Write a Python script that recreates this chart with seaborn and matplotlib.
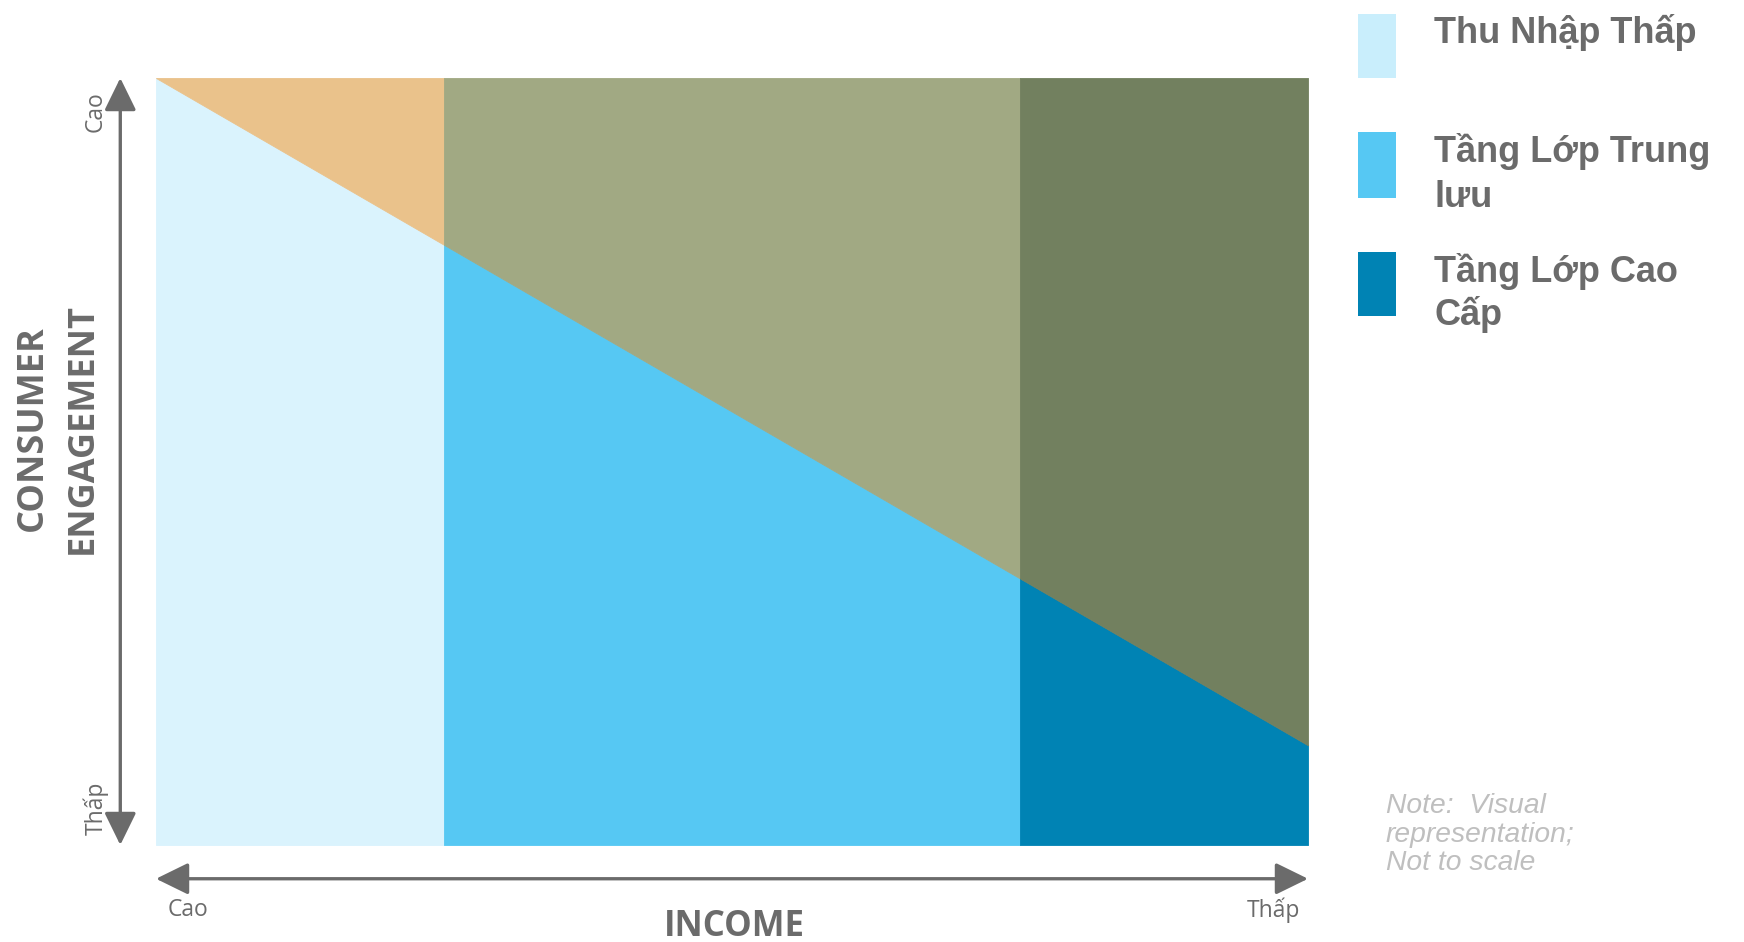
import numpy as np
import matplotlib.pyplot as plt
import seaborn as sns

# segment boundaries along the income axis and the diagonal engagement line
income_edges = [0, 1, 3, 4]
line_x = [0, 4]
line_y = [1.0, 0.13]

segment_names = ['Thu Nhập Thấp', 'Tầng Lớp Trung\nlưu', 'Tầng Lớp Cao\nCấp']
below_colors = ['#DAF3FD', '#56C8F3', '#0083B4']
above_colors = ['#EAC28B', '#A1A983', '#72805F']
legend_colors = ['#C9EEFC', '#56C8F3', '#0083B4']

sns.set_theme(style='white')
plt.rcParams['font.family'] = ['Open Sans', 'DejaVu Sans']

W, H = 1744, 942
fig = plt.figure(figsize=(W / 100, H / 100), dpi=100)


def fx(x):
    return x / W


def fy(y):
    return 1 - y / H


ax = fig.add_axes([fx(156), fy(845), fx(1308) - fx(156), fy(78) - fy(845)])

for i in range(len(segment_names)):
    xs = np.array(income_edges[i:i + 2], dtype=float)
    ys = np.interp(xs, line_x, line_y)
    ax.fill_between(xs, 0, ys, color=below_colors[i], lw=0.6, edgecolor=below_colors[i])
    ax.fill_between(xs, ys, 1, color=above_colors[i], lw=0.6, edgecolor=above_colors[i])

ax.set_xlim(income_edges[0], income_edges[-1])
ax.set_ylim(0, 1)
ax.set_axis_off()

grey = '#6B6B6B'
arrow = dict(arrowstyle='<|-|>,head_length=1.0,head_width=0.49', mutation_scale=20,
             lw=2.4, color=grey, shrinkA=0, shrinkB=0)
ax.annotate('', xy=(-0.031, 1), xytext=(-0.031, 0), xycoords='axes fraction',
            textcoords='axes fraction', arrowprops=arrow, annotation_clip=False)
ax.annotate('', xy=(1, -0.044), xytext=(0, -0.044), xycoords='axes fraction',
            textcoords='axes fraction', arrowprops=arrow, annotation_clip=False)

# axis labels
fig.text(fx(58), fy(428), 'CONSUMER\nENGAGEMENT', rotation=90, ha='center', va='center',
         fontsize=26, fontweight='bold', color=grey, linespacing=1.5)
fig.text(fx(734), fy(927), 'INCOME', ha='center', va='center',
         fontsize=25, fontweight='bold', color=grey)

fig.text(fx(96), fy(112), 'Cao', rotation=90, ha='center', va='center', fontsize=16.5, color=grey)
fig.text(fx(96), fy(808), 'Thấp', rotation=90, ha='center', va='center', fontsize=16.5, color=grey)
fig.text(fx(168), fy(910), 'Cao', ha='left', va='center', fontsize=16.5, color=grey)
fig.text(fx(1300), fy(910), 'Thấp', ha='right', va='center', fontsize=16.5, color=grey)

# legend
box_tops = [14, 132, 252]
box_heights = [64, 66, 64]
text_baselines = [[43], [162, 207], [282, 325]]
for name, col, top, hgt, bases in zip(segment_names, legend_colors, box_tops, box_heights, text_baselines):
    fig.patches.append(plt.Rectangle((fx(1358), fy(top + hgt)), fx(38), hgt / H,
                                     transform=fig.transFigure, color=col, lw=0))
    for line, b in zip(name.split('\n'), bases):
        fig.text(fx(1434), fy(b), line, ha='left', va='baseline', fontsize=26,
                 fontweight='bold', color=grey, family=['Liberation Sans', 'DejaVu Sans'])

note_lines = ['Note:  Visual', 'representation;', 'Not to scale']
for line, b in zip(note_lines, [813, 842, 870]):
    fig.text(fx(1386), fy(b), line, ha='left', va='baseline', fontsize=20.3,
             style='italic', color='#BFBFBF', family=['Liberation Sans', 'DejaVu Sans'])

fig.savefig('out.png', dpi=100, facecolor='white')
